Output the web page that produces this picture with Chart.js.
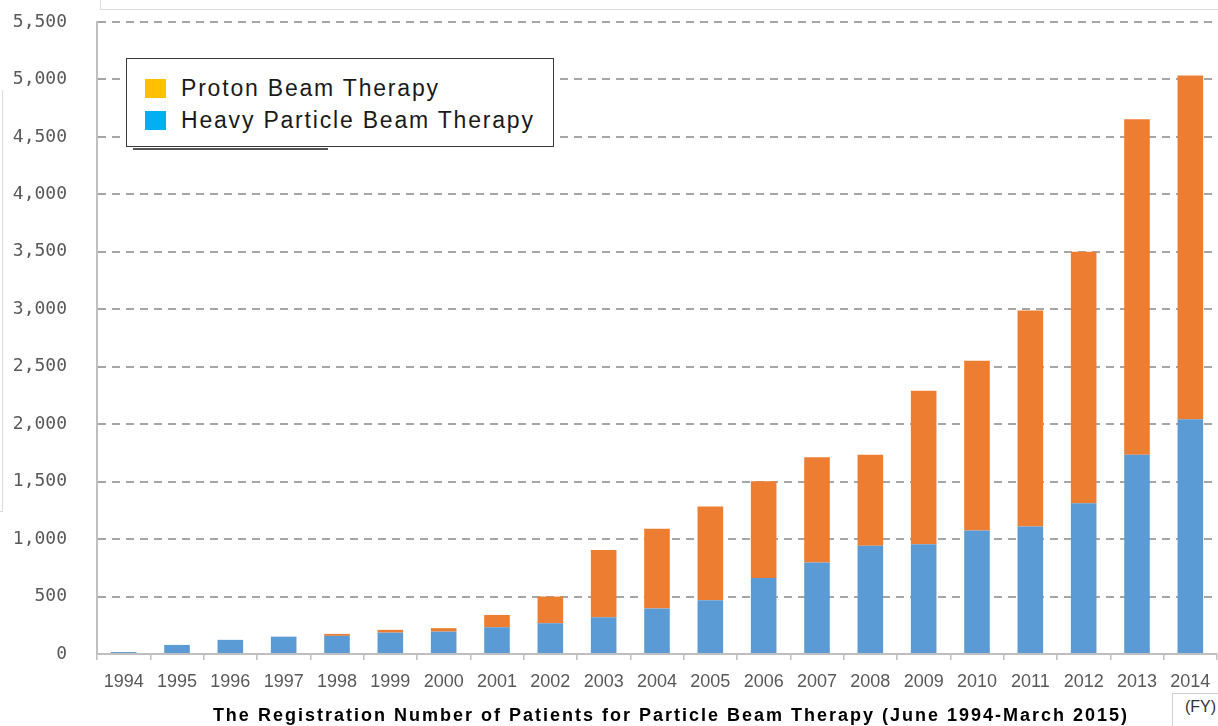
<!DOCTYPE html>
<html>
<head>
<meta charset="utf-8">
<script src="https://cdn.jsdelivr.net/npm/chart.js@4.4.0/dist/chart.umd.min.js"></script>
<style>
html,body{margin:0;padding:0;background:#fff;}
#wrap{position:relative;width:1218px;height:726px;overflow:hidden;background:#fff;}
#c{position:absolute;left:0;top:0;}
#legend{position:absolute;left:126px;top:58px;width:426px;height:87px;border:1.5px solid #3a3a3a;background:#fff;
  font-family:'Liberation Sans',Arial,sans-serif;font-size:23px;letter-spacing:1.8px;color:#1a1a1a;}
#legend .item{position:absolute;left:0;height:26px;display:flex;align-items:center;white-space:nowrap;}
#legend .sw{width:21px;height:19px;margin-left:18px;margin-right:15px;}
#legshadow{position:absolute;left:133px;top:148px;width:195px;height:2px;background:#555;}
#title{position:absolute;left:0;width:1342px;top:706px;text-align:center;font-family:'Liberation Sans',Arial,sans-serif;
  font-weight:bold;font-size:18px;line-height:18px;letter-spacing:2px;color:#000;white-space:nowrap;}
#fy{position:absolute;left:1172px;top:693px;width:60px;height:40px;border:1px solid #d0d0d0;background:#fff;
  font-family:'Liberation Sans',Arial,sans-serif;font-size:16px;color:#333;}
#fy span{position:absolute;left:12px;top:4px;}
.art{position:absolute;background:#dcdcdc;}
</style>
</head>
<body>
<div id="wrap">
  <canvas id="c" width="1218" height="726"></canvas>
  <div class="art" style="left:100px;top:0;width:1px;height:10px;"></div>
  <div class="art" style="left:100px;top:9px;width:1118px;height:1px;"></div>
  <div class="art" style="left:2px;top:90px;width:1px;height:422px;"></div>
  <div class="art" style="left:0;top:511px;width:3px;height:1px;"></div>
  <div id="legshadow"></div>
  <div id="legend"></div>
  <div id="title"></div>
  <div id="fy"><span></span></div>
</div>
<script>
// ---- data ----
const years = ['1994','1995','1996','1997','1998','1999','2000','2001','2002','2003','2004','2005','2006','2007','2008','2009','2010','2011','2012','2013','2014'];
const heavyParticle = [17,79,123,151,158,186,195,233,268,320,395,468,662,797,943,955,1074,1109,1312,1733,2043];
const proton = [0,0,0,0,17,24,30,107,232,586,696,815,842,916,790,1337,1477,1880,2188,2921,2991];
const seriesLabels = ['Proton Beam Therapy','Heavy Particle Beam Therapy'];
const legendColors = ['#FFC000','#00B0F0'];
const barColors = ['#ED7D31','#5B9BD5'];
const yMin = 0, yMax = 5500, yStep = 500;
const chartTitle = 'The Registration Number of Patients for Particle Beam Therapy (June 1994-March 2015)';
const unitLabel = '(FY)';

document.getElementById('title').textContent = chartTitle;
document.querySelector('#fy span').textContent = unitLabel;

const leg = document.getElementById('legend');
seriesLabels.forEach((lab, i) => {
  const it = document.createElement('div');
  it.className = 'item';
  it.style.top = (16 + i * 32) + 'px';
  const sw = document.createElement('div');
  sw.className = 'sw';
  sw.style.background = legendColors[i];
  const tx = document.createElement('span');
  tx.textContent = lab;
  it.appendChild(sw); it.appendChild(tx);
  leg.appendChild(it);
});

new Chart(document.getElementById('c'), {
  type: 'bar',
  data: {
    labels: years,
    datasets: [
      { label: seriesLabels[1], data: heavyParticle, backgroundColor: barColors[1], borderWidth: 0 },
      { label: seriesLabels[0], data: proton, backgroundColor: barColors[0], borderWidth: 0 }
    ]
  },
  options: {
    responsive: false,
    animation: false,
    maintainAspectRatio: false,
    layout: { padding: { top: 22, right: 1, bottom: 0, left: 0 } },
    datasets: { bar: { categoryPercentage: 1.0, barPercentage: 0.48 } },
    plugins: { legend: { display: false }, tooltip: { enabled: false }, title: { display: false } },
    scales: {
      x: {
        stacked: true,
        grid: { display: true, drawOnChartArea: false, drawTicks: true, tickLength: 6, color: '#BFBFBF', lineWidth: 1.5 },
        border: { display: true, color: '#BFBFBF', width: 2 },
        ticks: { color: '#595959', autoSkip: false, maxRotation: 0, padding: 2,
          font: { family: "'Liberation Sans',Arial,sans-serif", size: 18, lineHeight: 2.2 } },
        afterFit: (s) => { s.height = 72; }
      },
      y: {
        stacked: true,
        min: yMin, max: yMax,
        grid: { drawTicks: true, tickLength: 26, tickColor: 'rgba(0,0,0,0)', lineWidth: 2,
          color: (ctx) => (ctx.tick && ctx.tick.value === 0) ? 'rgba(0,0,0,0)' : '#A6A6A6' },
        border: { display: true, color: '#BFBFBF', width: 2, dash: [8, 6] },
        ticks: { stepSize: yStep, padding: 4, color: '#595959',
          font: { family: "'DejaVu Sans Mono',monospace", size: 18 },
          callback: (v) => Number(v).toLocaleString('en-US') },
        afterFit: (s) => { s.width = 97; }
      }
    }
  }
});
</script>
</body>
</html>
